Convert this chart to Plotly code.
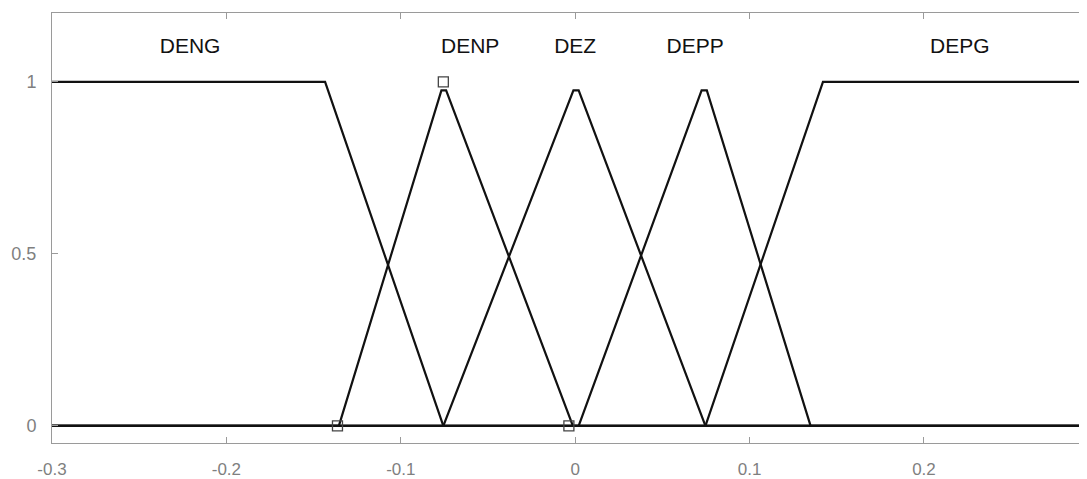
import plotly.graph_objects as go

# Membership function vertices
deng_x = [-0.3, -0.1434, -0.0756, 0.3]
deng_y = [1.0, 1.0, 0.0, 0.0]

denp_x = [-0.3, -0.1355, -0.0767, -0.0740, -0.0013, 0.3]
denp_y = [0.0, 0.0, 0.975, 0.975, 0.0, 0.0]

dez_x = [-0.3, -0.0756, -0.0010, 0.0020, 0.0747, 0.3]
dez_y = [0.0, 0.0, 0.975, 0.975, 0.0, 0.0]

depp_x = [-0.3, 0.0020, 0.0725, 0.0755, 0.1350, 0.3]
depp_y = [0.0, 0.0, 0.975, 0.975, 0.0, 0.0]

depg_x = [-0.3, 0.0747, 0.1421, 0.3]
depg_y = [0.0, 0.0, 1.0, 1.0]

# Selected MF (DENP) vertex markers
marker_x = [-0.1363, -0.0756, -0.0036]
marker_y = [0.0, 1.0, 0.0]

# Labels
label_names = ["DENG", "DENP", "DEZ", "DEPP", "DEPG"]
label_x = [-0.2208, -0.0602, 0.0, 0.0688, 0.2206]
label_y = [1.10, 1.10, 1.10, 1.10, 1.10]

x_ticks = [-0.3, -0.2, -0.1, 0, 0.1, 0.2]
x_tick_text = ["-0.3", "-0.2", "-0.1", "0", "0.1", "0.2"]
y_ticks = [0, 0.5, 1]
y_tick_text = ["0", "0.5", "1"]

fig = go.Figure()
for xs, ys in [(deng_x, deng_y), (denp_x, denp_y), (dez_x, dez_y),
               (depp_x, depp_y), (depg_x, depg_y)]:
    fig.add_trace(go.Scatter(x=xs, y=ys, mode="lines",
                             line=dict(color="#111111", width=2.2),
                             hoverinfo="skip", showlegend=False))

fig.add_trace(go.Scatter(x=marker_x, y=marker_y, mode="markers",
                         marker=dict(symbol="square-open", size=10,
                                     color="#444444", line=dict(width=1.3)),
                         showlegend=False, hoverinfo="skip"))

fig.add_trace(go.Scatter(x=label_x, y=label_y, mode="text", text=label_names,
                         textfont=dict(family="Liberation Sans, Arial", size=21, color="#111111"),
                         showlegend=False, hoverinfo="skip"))

axis_common = dict(showgrid=False, zeroline=False, showline=True,
                   linecolor="#9a9a9a", linewidth=1, mirror="ticks",
                   ticks="inside", ticklen=6, tickcolor="#9a9a9a")

fig.update_xaxes(range=[-0.3, 0.2935], tickvals=x_ticks, ticktext=x_tick_text,
                 ticklabelstandoff=11,
                 tickfont=dict(family="Liberation Sans, Arial", size=17, color="#7f7f7f"),
                 **axis_common)
fig.update_yaxes(range=[-0.05, 1.2], tickvals=y_ticks, ticktext=y_tick_text,
                 ticklabelstandoff=11,
                 tickfont=dict(family="Liberation Sans, Arial", size=18, color="#7f7f7f"),
                 **axis_common)

# the page body has an 8px margin; the figure is sized so that the plot area
# sits at the same place as in the reference
fig.update_layout(width=1079, height=471,
                  margin=dict(l=44, r=0, t=5, b=36, autoexpand=False),
                  paper_bgcolor="white", plot_bgcolor="white")

fig.write_html("out.html")
